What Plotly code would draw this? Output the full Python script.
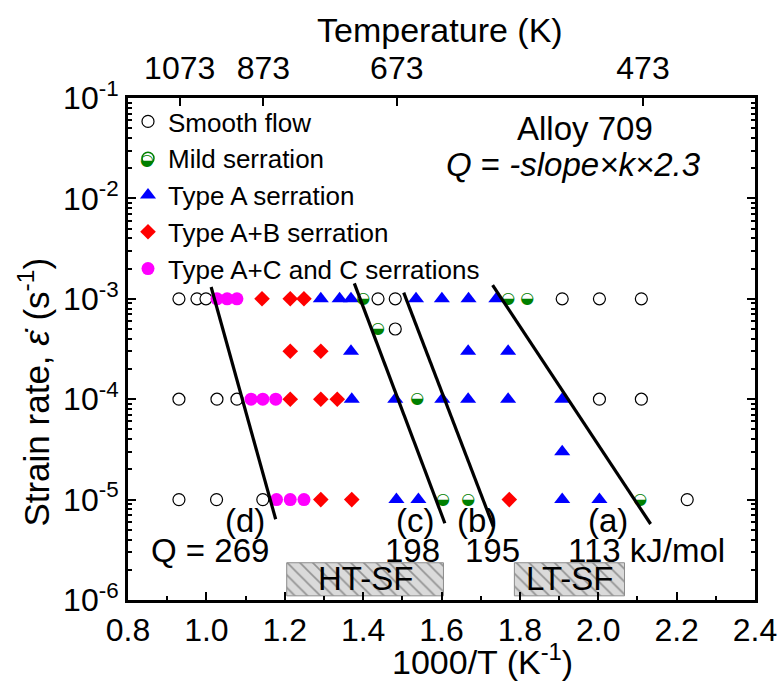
import plotly.graph_objects as go

# ---- measured regimes: 1000/T (K^-1) and strain rate (s^-1) ----
smooth_x = [0.930, 0.976, 0.999, 1.438, 1.482, 1.908, 2.003, 2.110,
            1.482,
            0.930, 1.027, 1.078, 2.003, 2.110,
            0.930, 1.026, 1.144, 2.227]
smooth_y = [1e-3] * 8 + [5e-4] + [1e-4] * 5 + [1e-5] * 4

mild_x = [1.400, 1.770, 1.819, 1.438, 1.538, 1.604, 1.668, 2.107]
mild_y = [1e-3, 1e-3, 1e-3, 5e-4, 1e-4, 1e-5, 1e-5, 1e-5]

typeA_x = [1.292, 1.340, 1.369, 1.535, 1.601, 1.669, 1.740,
           1.369, 1.668, 1.770,
           1.371, 1.482, 1.602, 1.668, 1.770, 1.908,
           1.908,
           1.485, 1.541, 1.908, 2.003]
typeA_y = [1e-3] * 7 + [3e-4] * 3 + [1e-4] * 6 + [3e-5] + [1e-5] * 4

typeAB_x = [1.142, 1.214, 1.249, 1.214, 1.292, 1.214, 1.292, 1.334,
            1.292, 1.371, 1.773]
typeAB_y = [1e-3] * 3 + [3e-4] * 2 + [1e-4] * 3 + [1e-5] * 3

typeAC_x = [1.027, 1.053, 1.078, 1.114, 1.144, 1.177, 1.179, 1.214, 1.249]
typeAC_y = [1e-3] * 3 + [1e-4] * 3 + [1e-5] * 3

# ---- Arrhenius fits: activation energy (kJ/mol), anchor point, rate span ----
fit_labels = ["(d)", "(c)", "(b)", "(a)"]
fit_Q = [269, 198, 195, 113]
fit_mid_x = [1.0945, 1.493, 1.618, 1.932]
fit_mid_lograte = [-4.039, -4.040, -4.104, -4.053]
fit_top_lograte = [-2.882, -2.846, -2.939, -2.863]
fit_bot_lograte = [-5.196, -5.235, -5.269, -5.243]
R_LN10 = 8.314 * 2.303  # Q = -slope * k * 2.3  (kJ/mol per unit 1000/T)

# ---- serration-free windows (1000/T) ----
sf_names = ["HT-SF", "LT-SF"]
sf_x0 = [1.205, 1.786]
sf_x1 = [1.605, 2.067]

# top axis temperatures (K)
temps_K = [1073, 873, 673, 473]

FONT = "Arial, Liberation Sans, sans-serif"
TXT = 33

fig = go.Figure()

fig.add_trace(go.Scatter(
    x=smooth_x, y=smooth_y, mode="markers", name="Smooth flow",
    marker=dict(symbol="circle", size=12, color="white",
                line=dict(color="black", width=1.2))))
# legend entry for the half-filled symbol
fig.add_trace(go.Scatter(
    x=[None], y=[None], mode="markers", name="Mild serration",
    marker=dict(symbol="circle", size=12, color="white",
                line=dict(color="green", width=1.5))))
fig.add_trace(go.Scatter(
    x=typeA_x, y=typeA_y, mode="markers", name="Type A serration",
    marker=dict(symbol="triangle-up", size=14, color="#0000ff")))
fig.add_trace(go.Scatter(
    x=typeAB_x, y=typeAB_y, mode="markers", name="Type A+B serration",
    marker=dict(symbol="diamond", size=12, color="#ff0000")))
fig.add_trace(go.Scatter(
    x=typeAC_x, y=typeAC_y, mode="markers", name="Type A+C and C serrations",
    marker=dict(symbol="circle", size=13, color="#ff00ff")))
fig.add_trace(go.Scatter(
    x=mild_x, y=mild_y, mode="text", text=["\u25d2"] * len(mild_x),
    textposition="middle center", showlegend=False,
    textfont=dict(family="DejaVu Sans", size=16, color="green")))

# fitted lines, slope set by the activation energy
for lab, Q, xm, lm, lt, lb in zip(fit_labels, fit_Q, fit_mid_x,
                                  fit_mid_lograte, fit_top_lograte,
                                  fit_bot_lograte):
    slope = -Q / R_LN10
    xs = [xm + (lt - lm) / slope, xm + (lb - lm) / slope]
    ys = [10 ** lt, 10 ** lb]
    fig.add_trace(go.Scatter(x=xs, y=ys, mode="lines", showlegend=False,
                             line=dict(color="black", width=3.2)))

# hatched serration-free boxes
box_y0, box_y1 = 1.1e-6, 2.35e-6
for name, a, b in zip(sf_names, sf_x0, sf_x1):
    fig.add_trace(go.Scatter(
        x=[a, b, b, a, a], y=[box_y0, box_y0, box_y1, box_y1, box_y0],
        mode="lines", fill="toself", showlegend=False,
        line=dict(color="#8c8c8c", width=1),
        fillpattern=dict(shape="\\", bgcolor="#dadada", fgcolor="#4a4a4a",
                         size=9, solidity=0.18)))
    fig.add_annotation(x=(a + b) / 2, y=-5.79, xref="x", yref="y",
                       text=name, showarrow=False,
                       xanchor="center", yanchor="middle",
                       font=dict(size=TXT, family=FONT, color="black"))

# invisible trace to carry the temperature axis
fig.add_trace(go.Scatter(x=[None], y=[None], xaxis="x2", showlegend=False,
                         hoverinfo="skip"))

# text labels
labels = [
    ("Alloy 709", 0.729, 0.940),
    ("<i>Q</i> = <i>-slope×k×2.3</i>", 0.710, 0.867),
    ("(d)", 0.187, 0.159), ("(c)", 0.458, 0.159),
    ("(b)", 0.557, 0.159), ("(a)", 0.766, 0.159),
    ("Q = %d" % fit_Q[0], 0.131, 0.0996), ("%d" % fit_Q[1], 0.453, 0.0996),
    ("%d" % fit_Q[2], 0.581, 0.0996), ("%d kJ/mol" % fit_Q[3], 0.827, 0.0996),
]
for t, x, y in labels:
    fig.add_annotation(x=x, y=y, xref="paper", yref="paper", text=t,
                       showarrow=False, xanchor="center", yanchor="middle",
                       font=dict(size=TXT, family=FONT, color="black"))

# axis titles
fig.add_annotation(x=0.498, y=1.1355, xref="paper", yref="paper",
                   text="Temperature (K)", showarrow=False,
                   xanchor="center", yanchor="middle",
                   font=dict(size=34, family=FONT, color="black"))
fig.add_annotation(x=0.565, y=-0.1195, xref="paper", yref="paper",
                   text="1000/T (K<sup>-1</sup>)", showarrow=False,
                   xanchor="center", yanchor="middle",
                   font=dict(size=34, family=FONT, color="black"))
fig.add_annotation(x=-0.150, y=0.415, xref="paper", yref="paper",
                   text="Strain rate, <i>\u03b5\u0307</i> (s<sup>-1</sup>)",
                   showarrow=False, textangle=-90,
                   xanchor="center", yanchor="middle",
                   font=dict(size=35, family=FONT, color="black"))

# half-filled symbol for the legend entry
fig.add_annotation(x=0.0305, y=0.8765, xref="paper", yref="paper",
                   text="\u25d2", showarrow=False,
                   xanchor="center", yanchor="middle",
                   font=dict(family="DejaVu Sans", size=16, color="green"))

y_minor = [m * 10.0 ** e for e in range(-6, -1) for m in range(2, 10)]

fig.update_layout(
    width=779, height=685,
    margin=dict(l=128, r=24, t=98, b=85),
    plot_bgcolor="white", paper_bgcolor="white",
    font=dict(family=FONT, color="black"),
    showlegend=True,
    legend=dict(x=0.0, y=1.0, xanchor="left", yanchor="top",
                bgcolor="rgba(0,0,0,0)", font=dict(size=26, family=FONT),
                itemwidth=30, tracegroupgap=0),
    xaxis=dict(range=[0.8, 2.4], dtick=0.2, tick0=0.8, tickformat=".1f",
               automargin=False,
               showgrid=False, zeroline=False,
               showline=True, linecolor="black", linewidth=3, mirror=True,
               ticks="inside", ticklen=8, tickwidth=2, tickcolor="black",
               minor=dict(dtick=0.1, ticks="inside", ticklen=4, tickwidth=2,
                          tickcolor="black", showgrid=False),
               tickfont=dict(size=32)),
    xaxis2=dict(range=[0.8, 2.4], overlaying="x", side="top", anchor="y",
                automargin=False,
                tickvals=[1000.0 / t for t in temps_K],
                ticktext=[str(t) for t in temps_K],
                showgrid=False, zeroline=False, showline=False,
                ticks="inside", ticklen=8, tickwidth=2, tickcolor="black",
                ticklabelstandoff=12,
                tickfont=dict(size=32)),
    yaxis=dict(type="log", range=[-6, -1], automargin=False,
               tickvals=[10.0 ** e for e in range(-6, 0)],
               ticktext=["10<sup>%d</sup>" % e for e in range(-6, 0)],
               showgrid=False, zeroline=False,
               showline=True, linecolor="black", linewidth=3, mirror="ticks",
               ticks="inside", ticklen=8, tickwidth=2, tickcolor="black",
               minor=dict(tickvals=y_minor, ticks="inside", ticklen=4,
                          tickwidth=2, tickcolor="black", showgrid=False),
               tickfont=dict(size=32)),
)

fig.write_html("out.html")
